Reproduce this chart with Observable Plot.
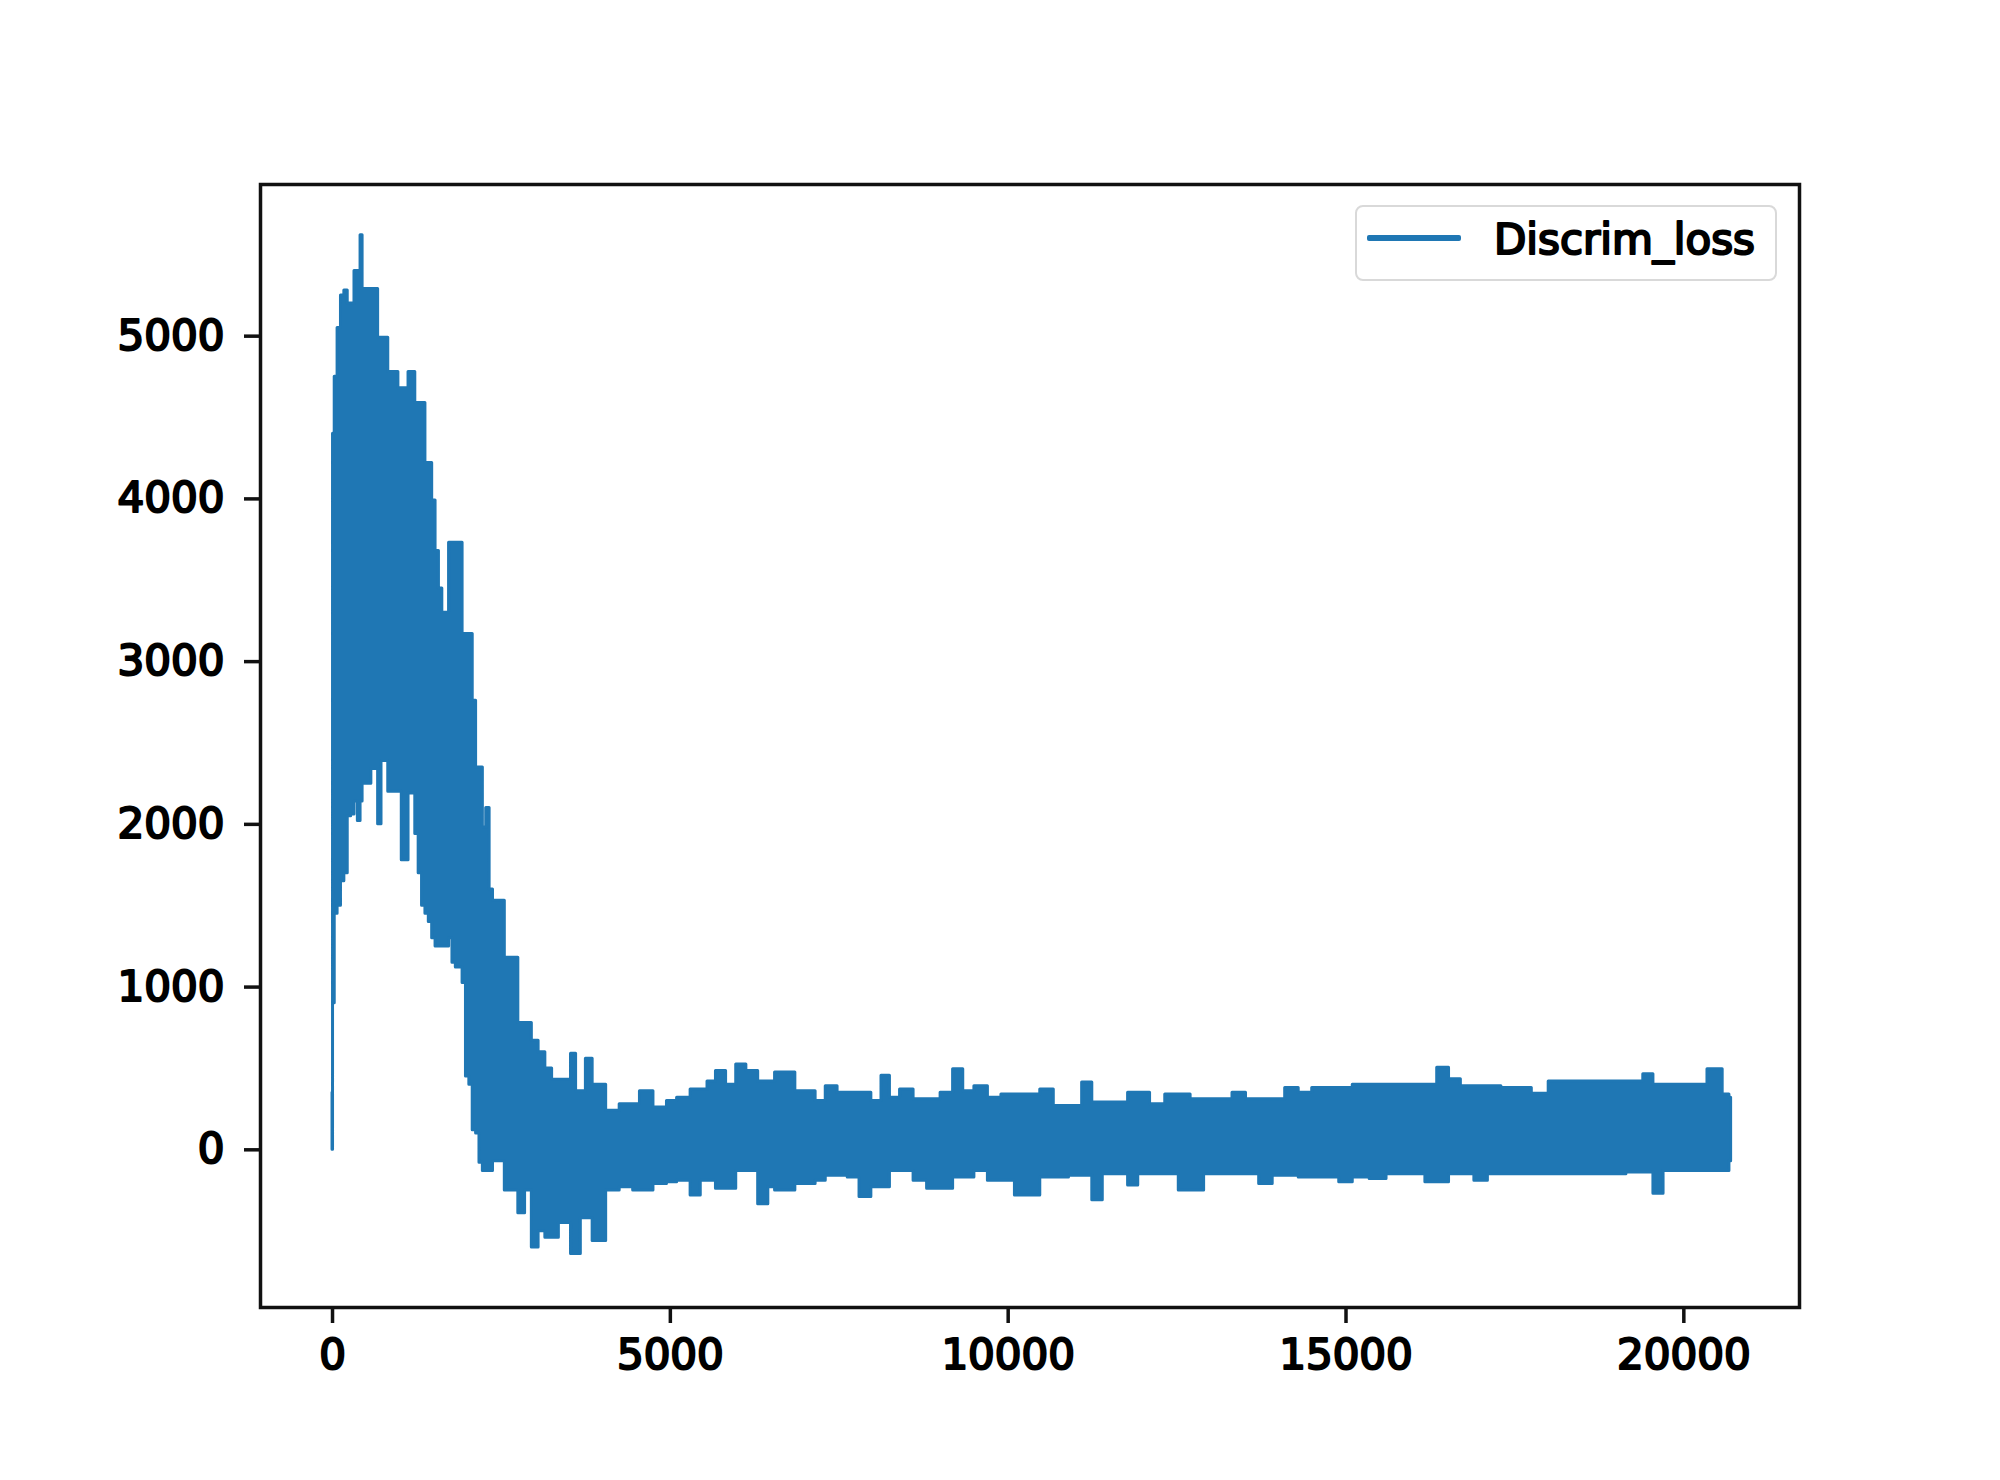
<!DOCTYPE html>
<html>
<head>
<meta charset="utf-8">
<script src="https://cdn.jsdelivr.net/npm/d3@7"></script>
<script src="https://cdn.jsdelivr.net/npm/@observablehq/plot@0.6"></script>
<style>
  html, body { margin: 0; padding: 0; background: #fff; }
  #wrap { position: relative; width: 2000px; height: 1480px; }
  #legend {
    position: absolute; left: 1355px; top: 205px; width: 422px; height: 76px;
    box-sizing: border-box; border: 2.5px solid #d9d9d9; border-radius: 8px; background: rgba(255,255,255,0.8);
    font-family: 'DejaVu Sans', sans-serif; font-weight: 400; font-size: 42px; color: #000;
  }
  #legend .swatch { position: absolute; left: 10px; top: 28px; width: 94px; height: 6px; background: #1f77b4; border-radius: 2px; }
  #legend svg { position: absolute; left: 0; top: 0; }
  #wrap svg text { stroke: #000; stroke-width: 2.2px; paint-order: stroke; stroke-linejoin: round; }
</style>
</head>
<body>
<div id="wrap"></div>
<script>
// Series name
const seriesName = "Discrim_loss";
// Training step (x) at which the envelope of the noisy loss curve was read
const steps = [0, 15, 50, 100, 150, 200, 250, 300, 350, 400, 430, 460, 550, 600, 650, 700, 750, 800, 850, 900, 950, 1000, 1050, 1100, 1150, 1200, 1250, 1300, 1350, 1400, 1450, 1500, 1550, 1600, 1650, 1700, 1750, 1800, 1850, 1900, 1950, 2000, 2050, 2100, 2150, 2200, 2250, 2300, 2350, 2400, 2500, 2600, 2700, 2800, 2900, 3000, 3100, 3200, 3300, 3400, 3500, 3560, 3650, 3700, 3800, 3900, 4000, 4100, 4200, 4300, 4400, 4500, 4600, 4700, 4800, 4900,
  5000, 5200, 5400, 5500, 5600, 5750, 5900, 6050, 6200, 6400, 6500, 6600, 6800, 6900, 7100, 7200, 7400, 7550, 7700, 7900, 8050, 8200, 8300, 8500, 8700, 8900, 9100, 9270, 9400, 9600, 9800, 10000, 10200, 10400, 10550, 10800, 11000, 11190, 11300, 11500, 11700, 11850, 12000, 12200, 12450, 12600, 12800, 13000, 13200, 13440, 13600, 13830, 14000, 14200, 14400, 14600, 14800, 15000, 15200, 15500, 15700, 15900, 16100, 16250, 16450, 16600, 16800, 17000, 17200, 17400, 17600, 17900, 18100, 18400, 18700, 19000, 19300, 19500, 19600, 19800, 20000, 20200, 20500, 20650, 20700];
// Upper envelope of the loss (max value around each step)
const lossHigh = [350, 4400, 4750, 5050, 5250, 5280, 5200, 5200, 5400, 5400, 5620, 5290, 5290, 5290, 5290, 4990, 4990, 4990, 4780, 4780, 4780, 4680, 4680, 4680, 4780, 4780, 4590, 4590, 4590, 4220, 4220, 3990, 3680, 3450, 3300, 3300, 3730, 3730, 3730, 3730, 3170, 3170, 3170, 2760, 2350, 2350, 1980, 2100, 1600, 1530, 1530, 1180, 1180, 780, 780, 670, 600, 500, 430, 430, 430, 590, 360, 360, 560, 400, 400, 240, 240, 280, 280, 280, 360, 360, 260, 260,
  300, 320, 370, 370, 420, 485, 400, 525, 485, 420, 420, 475, 475, 360, 360, 300, 390, 350, 350, 350, 300, 455, 320, 370, 310, 310, 350, 495, 360, 390, 320, 340, 340, 340, 370, 270, 270, 414, 290, 290, 290, 350, 350, 280, 340, 340, 310, 310, 310, 350, 310, 310, 310, 380, 350, 380, 380, 380, 400, 400, 400, 400, 400, 400, 505, 434, 390, 390, 390, 380, 380, 345, 420, 420, 420, 420, 420, 464, 400, 400, 400, 400, 495, 340, 320];
// Lower envelope of the loss (min value around each step)
const lossLow = [0, 900, 1450, 1500, 1650, 1700, 2050, 2060, 2140, 2020, 2140, 2250, 2250, 2340, 2340, 2000, 2390, 2390, 2200, 2200, 2200, 2200, 1780, 1780, 2190, 2190, 1940, 1700, 1500, 1450, 1400, 1300, 1250, 1250, 1250, 1250, 1300, 1150, 1120, 1120, 1025, 450, 400, 120, 100, -80, -130, -130, -130, -70, -70, -250, -250, -390, -250, -600, -500, -540, -540, -450, -450, -640, -640, -420, -420, -560, -560, -250, -250, -230, -230, -250, -250, -250, -210, -210,
  -200, -190, -280, -190, -190, -240, -240, -130, -130, -335, -230, -250, -250, -210, -210, -190, -160, -160, -170, -290, -230, -230, -130, -130, -190, -240, -240, -170, -170, -130, -190, -190, -280, -280, -170, -170, -160, -160, -310, -150, -150, -220, -150, -150, -150, -250, -250, -150, -150, -150, -150, -210, -160, -160, -170, -170, -170, -200, -170, -180, -150, -150, -150, -200, -200, -150, -150, -190, -150, -150, -150, -150, -150, -150, -150, -150, -140, -140, -270, -130, -130, -130, -130, -130, -70];
// Axis ticks
const xTicks = [0, 5000, 10000, 15000, 20000];
const yTicks = [0, 1000, 2000, 3000, 4000, 5000];

const data = steps.map((x, i) => ({x, hi: lossHigh[i], lo: lossLow[i]}));
const color = "#1f77b4";

const chart = Plot.plot({
  width: 2000,
  height: 1480,
  marginLeft: 260,
  marginRight: 201,
  marginTop: 184,
  marginBottom: 173,
  style: {fontFamily: "'DejaVu Sans', sans-serif", fontSize: "42px", fontWeight: 400, color: "#000", background: "#fff"},
  x: {domain: [-1066, 21712]},
  y: {domain: [-969, 5932]},
  marks: [
    Plot.areaY(data, {x: "x", y1: "lo", y2: "hi", fill: color, stroke: color, strokeWidth: 3, strokeLinejoin: "round", curve: "step"}),
    Plot.frame({stroke: "#111", strokeWidth: 3.5}),
    Plot.axisX({ticks: xTicks, tickFormat: d3.format("d"), tickSize: 16, tickPadding: 16, strokeWidth: 3.5, stroke: "#111", fill: "#000", label: null}),
    Plot.axisY({ticks: yTicks, tickFormat: d3.format("d"), tickSize: 16, tickPadding: 20, strokeWidth: 3.5, stroke: "#111", fill: "#000", label: null})
  ]
});

const wrap = document.getElementById("wrap");
wrap.appendChild(chart);

// Legend (inside the plot frame, top right)
const legend = document.createElement("div");
legend.id = "legend";
legend.innerHTML = `<div class="swatch"></div><svg width="420" height="74"><text x="137" y="47"></text></svg>`;
legend.querySelector("text").textContent = seriesName;
wrap.appendChild(legend);
</script>
</body>
</html>
